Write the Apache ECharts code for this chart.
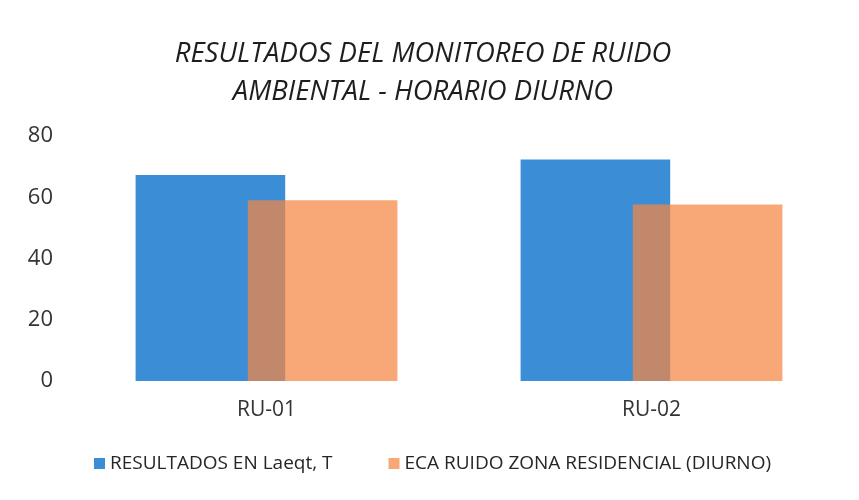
<!DOCTYPE html>
<html>
<head>
<meta charset="utf-8">
<script src="https://cdn.jsdelivr.net/npm/echarts@6/dist/echarts.min.js"></script>
<style>
html,body{margin:0;padding:0;background:#fff;}
#main{width:859px;height:500px;}
</style>
</head>
<body>
<div id="main"></div>
<script>
var categorias = ['RU-01', 'RU-02'];
var nombres = ['RESULTADOS EN Laeqt, T', 'ECA RUIDO ZONA RESIDENCIAL (DIURNO)'];
var resultados = [67.3, 72.3];
var eca = [59, 57.6];

var myChart = echarts.init(document.getElementById('main'));
var fuente = '"Open Sans", "Noto Sans", sans-serif';

var option = {
    animation: false,
    backgroundColor: '#fff',
    textStyle: { fontFamily: fuente },
    title: {
        text: 'RESULTADOS DEL MONITOREO DE RUIDO\nAMBIENTAL - HORARIO DIURNO',
        left: 418,
        top: 30,
        textAlign: 'center',
        textStyle: {
            fontFamily: fuente,
            fontStyle: 'italic',
            fontWeight: 'normal',
            fontSize: 27.5,
            lineHeight: 38,
            color: '#1e1e1e'
        }
    },
    legend: {
        left: 89,
        top: 449,
        itemWidth: 11,
        itemHeight: 11,
        itemGap: 56,
        icon: 'rect',
        textStyle: { fontSize: 19, color: '#262626', fontFamily: fuente },
        data: nombres
    },
    grid: {
        left: 74,
        right: 15,
        top: 136,
        bottom: 119
    },
    xAxis: {
        type: 'category',
        data: categorias,
        axisLine: { show: false },
        axisTick: { show: false },
        axisLabel: { fontSize: 21, color: '#333', margin: 19 }
    },
    yAxis: {
        type: 'value',
        min: 0,
        max: 80,
        interval: 20,
        splitLine: { show: false },
        axisLine: { show: false },
        axisTick: { show: false },
        axisLabel: { fontSize: 22, color: '#333', margin: 21 }
    },
    series: [{
        name: nombres[0],
        type: 'bar',
        data: resultados,
        barGap: '-25%',
        barCategoryGap: '32%',
        itemStyle: { color: '#3b8ed6' }
    }, {
        name: nombres[1],
        type: 'bar',
        data: eca,
        itemStyle: { color: '#f58642', opacity: 0.72 }
    }]
};
myChart.setOption(option);
</script>
</body>
</html>
